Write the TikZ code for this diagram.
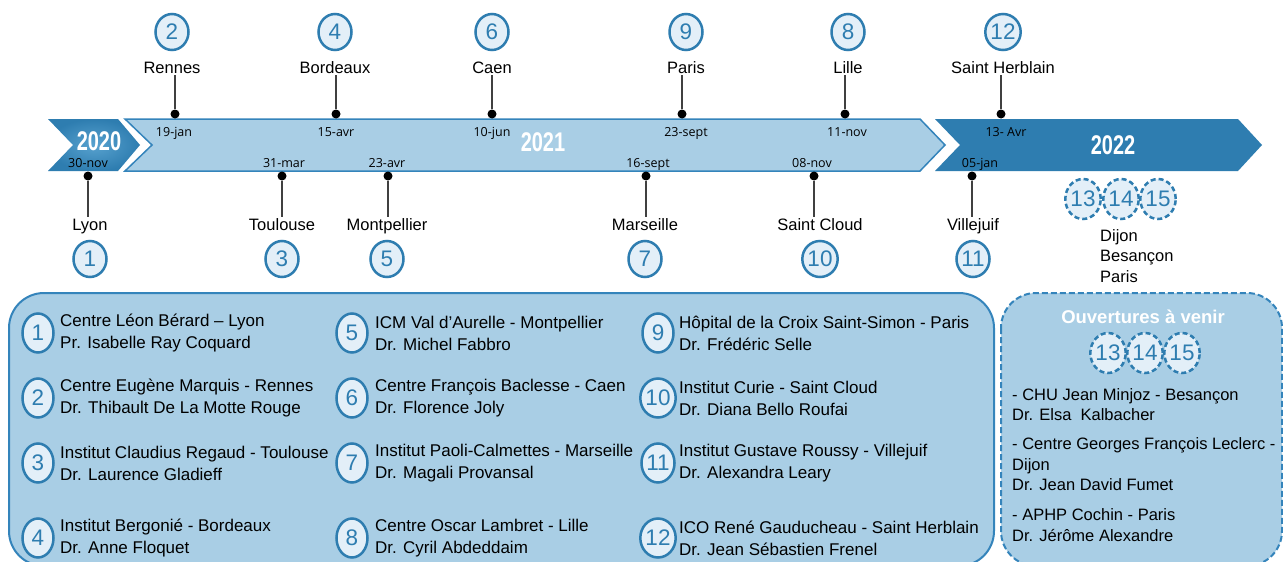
\documentclass[tikz,border=0pt]{standalone}
\usepackage{fontspec}
\setmainfont{Liberation Sans}
\newfontfamily\datefont{Open Sans}
\newfontfamily\yearfont{Liberation Sans Bold}[FakeStretch=0.74]
\usetikzlibrary{shapes.geometric}

\definecolor{darkblue}{RGB}{46,125,176}
\definecolor{chevlight}{RGB}{88,162,207}
\definecolor{bandblue}{RGB}{169,206,229}
\definecolor{lineblue}{RGB}{52,132,187}
\definecolor{numfill}{RGB}{227,239,248}

\tikzset{
  evdot/.style={circle, fill=black, inner sep=0pt, minimum size=9pt},
  stemline/.style={draw=black!75, line width=1.3pt},
  citylbl/.style={inner sep=0pt, outer sep=1.5pt, anchor=base, font=\fontsize{16.5}{20}\selectfont},
  datelbl/.style={inner sep=0pt, anchor=base, font=\datefont\fontsize{12.5}{14}\selectfont},
  yearlbl/.style={inner sep=0pt, text=white, font=\yearfont\fontsize{27}{27}\selectfont},
  numcirc/.style={ellipse, draw=darkblue, line width=2.5pt, fill=numfill, text=darkblue,
    inner sep=0pt, minimum width=33pt, minimum height=36pt, font=\fontsize{22.5}{22.5}\selectfont},
  numlist/.style={numcirc, minimum width=31pt, minimum height=39pt},
  numsoon/.style={numcirc, dash pattern=on 5pt off 3pt, minimum width=34pt, minimum height=40pt},
  listentry/.style={inner sep=0pt, anchor=west, align=left, font=\fontsize{17}{22}\selectfont},
  soonentry/.style={inner sep=0pt, anchor=west, align=left, font=\fontsize{16.5}{20.5}\selectfont}
}

\begin{document}
\begin{tikzpicture}[x=1pt,y=-1pt]
  \clip (0,0) rectangle (1283,562);
  \fill[white] (0,0) rectangle (1283,562);

  % 2020 chevron
  \shade[inner color=chevlight, outer color=darkblue]
    (48,119) -- (118,119) -- (140,145) -- (118,171) -- (48,171) -- (73,145) -- cycle;
  % 2021 band
  \filldraw[fill=bandblue, draw=lineblue, line width=1.5pt]
    (125,119) -- (920,119) -- (945,145) -- (920,171) -- (125,171) -- (152,145) -- cycle;
  % 2022 arrow
  \fill[darkblue]
    (935,119) -- (1238,119) -- (1262,145) -- (1238,171) -- (935,171) -- (960,145) -- cycle;

  % years
  \node[yearlbl] (y2020) at (99,141) {2020};
  \node[yearlbl] (y2021) at (543,142) {2021};
  \node[yearlbl] (y2022) at (1113,145) {2022};

  % openings above the band
  \foreach \n/\dx/\tx/\cx/\when/\city in {2/175/174/172/19-jan/Rennes,
      4/336/336/335/15-avr/Bordeaux, 6/492/492/492/10-jun/Caen,
      9/682/686/686/23-sept/Paris, 8/845/847/848/11-nov/Lille,
      12/1001/1006/1003/13- Avr/Saint Herblain}
  {
    \node[datelbl] (t\n) at (\tx,136) {\when};
    \node[citylbl] (c\n) at (\cx,73) {\city};
    \node[numcirc] (n\n) at (\cx,32) {\n};
    \node[evdot] (d\n) at (\dx,114) {};
    \draw[stemline] (d\n) -- (d\n |- c\n.south);
  }

  % openings below the band
  \foreach \n/\dx/\tx/\cx/\when/\city in {1/88/88/90/30-nov/Lyon,
      3/282/284/282/31-mar/Toulouse, 5/388/387/387/23-avr/Montpellier,
      7/646/648/645/16-sept/Marseille, 10/814/812/820/08-nov/Saint Cloud,
      11/972/980/973/05-jan/Villejuif}
  {
    \node[datelbl] (t\n) at (\tx,167) {\when};
    \node[citylbl] (c\n) at (\cx,230) {\city};
    \node[numcirc] (n\n) at (\cx,259) {\n};
    \node[evdot] (d\n) at (\dx,176) {};
    \draw[stemline] (d\n) -- (d\n |- c\n.north);
  }

  % coming in 2022
  \foreach \n/\x in {13/1083, 14/1121, 15/1158}
    \node[numsoon] (n\n) at (\x,199) {\n};
  \node[soonentry] (cities) at (1100,256) {Dijon\\Besançon\\Paris};

  % list of centres
  \filldraw[fill=bandblue, draw=lineblue, line width=2pt, rounded corners=35pt]
    (9,293) rectangle (994,566);
  \foreach \n/\cx/\tx/\y/\site/\doc in {
      1/38/60/333/{Centre Léon Bérard – Lyon}/{Pr. Isabelle Ray Coquard},
      2/38/60/398/{Centre Eugène Marquis - Rennes}/{Dr. Thibault De La Motte Rouge},
      3/38/60/463/{Institut Claudius Regaud - Toulouse}/{Dr. Laurence Gladieff},
      4/38/60/538/{Institut Bergonié - Bordeaux}/{Dr. Anne Floquet},
      5/352/375/333/{ICM Val d’Aurelle - Montpellier}/{Dr. Michel Fabbro},
      6/352/375/398/{Centre François Baclesse - Caen}/{Dr. Florence Joly},
      7/352/375/463/{Institut Paoli-Calmettes - Marseille}/{Dr. Magali Provansal},
      8/352/375/538/{Centre Oscar Lambret - Lille}/{Dr. Cyril Abdeddaim},
      9/658/679/333/{Hôpital de la Croix Saint-Simon - Paris}/{Dr. Frédéric Selle},
      10/658/679/398/{Institut Curie - Saint Cloud}/{Dr. Diana Bello Roufai},
      11/658/679/463/{Institut Gustave Roussy - Villejuif}/{Dr. Alexandra Leary},
      12/658/679/538/{ICO René Gauducheau - Saint Herblain}/{Dr. Jean Sébastien Frenel}}
  {
    \node[numlist] (l\n) at (\cx,\y) {\n};
    \node[listentry] (e\n) at (\tx,\y) {\site\\\doc};
  }

  % future openings
  \filldraw[fill=bandblue, draw=lineblue, line width=2pt, dash pattern=on 6pt off 3pt,
    rounded corners=35pt] (1001,293) rectangle (1282,566);
  \node[text=white, font=\bfseries\fontsize{18.5}{20}\selectfont] (title) at (1143,317)
    {Ouvertures à venir};
  \foreach \n/\x in {13/1108, 14/1145, 15/1182}
    \node[numsoon] (s\n) at (\x,353) {\n};
  \node[soonentry] (f13) at (1012,404.5) {- CHU Jean Minjoz - Besançon\\Dr. Elsa \ Kalbacher};
  \node[soonentry] (f14) at (1012,464.5) {- Centre Georges François Leclerc -\\Dijon\\Dr. Jean David Fumet};
  \node[soonentry] (f15) at (1012,525) {- APHP Cochin - Paris\\Dr. Jérôme Alexandre};
\end{tikzpicture}
\end{document}
